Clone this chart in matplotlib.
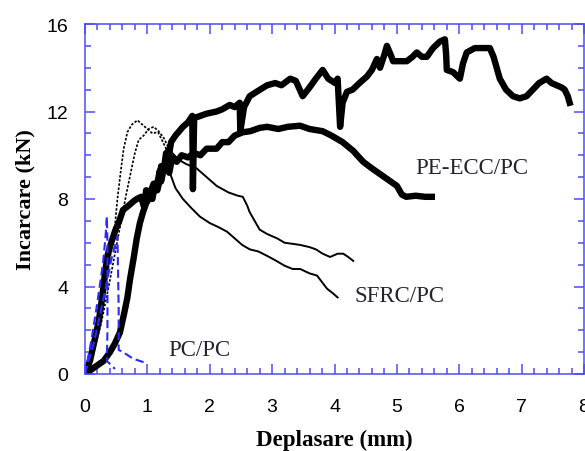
import matplotlib
matplotlib.use("Agg")
import matplotlib.pyplot as plt
from matplotlib.ticker import MultipleLocator
import numpy as np

# PE-ECC/PC specimens (thick black)
ecc1_x = [0, 0.08, 0.15, 0.22, 0.28, 0.32, 0.36, 0.42, 0.49, 0.55, 0.61, 0.7, 0.78, 0.83, 0.9, 0.95,
          0.98, 1.05, 1.1, 1.15, 1.2, 1.22, 1.28, 1.35, 1.4, 1.47, 1.55, 1.65, 1.75, 1.85, 1.95, 2.11,
          2.2, 2.3, 2.4, 2.53, 2.65, 2.8, 2.92, 3.1, 3.25, 3.45, 3.6, 3.81, 3.95, 4.13, 4.3, 4.46,
          4.6, 4.75, 4.9, 5.0, 5.08, 5.15, 5.3, 5.45, 5.56]
ecc1_y = [0, 0.6, 1.5, 2.4, 3.6, 4.6, 5.4, 6.0, 6.6, 7.0, 7.5, 7.7, 7.9, 8.0, 8.1, 7.6,
          8.4, 8.3, 8.7, 8.6, 9.3, 8.8, 9.6, 9.2, 9.9, 9.7, 10.0, 9.9, 10.1, 10.0, 10.3, 10.3,
          10.6, 10.6, 10.9, 11.05, 11.1, 11.25, 11.3, 11.2, 11.3, 11.35, 11.2, 11.1, 10.9, 10.6, 10.2, 9.7,
          9.4, 9.1, 8.8, 8.6, 8.2, 8.1, 8.15, 8.1, 8.1]

ecc2_x = [0, 0.1, 0.2, 0.3, 0.4, 0.48, 0.56, 0.63, 0.68, 0.72, 0.78, 0.83, 0.88, 0.93, 0.98, 1.04,
          1.08, 1.12, 1.16, 1.2, 1.22, 1.26, 1.3, 1.34, 1.38, 1.45, 1.57, 1.65, 1.72, 1.73, 1.75, 1.85,
          1.95, 2.11, 2.2, 2.32, 2.4, 2.48, 2.49, 2.55, 2.64, 2.75, 2.92, 3.05, 3.15, 3.29, 3.38, 3.49,
          3.6, 3.7, 3.81, 3.9, 4.01, 4.05, 4.09, 4.13, 4.2, 4.29, 4.4, 4.52, 4.6, 4.68, 4.73, 4.8,
          4.84, 4.9, 4.94, 5.05, 5.16, 5.25, 5.32, 5.4, 5.48, 5.58, 5.69, 5.77, 5.79, 5.8, 5.9, 6.01,
          6.06, 6.12, 6.25, 6.33, 6.49, 6.55, 6.65, 6.75, 6.86, 6.97, 7.08, 7.18, 7.28, 7.4, 7.48, 7.56,
          7.64, 7.69, 7.74, 7.77]
ecc2_y = [0, 0.2, 0.4, 0.6, 1.0, 1.4, 1.9, 2.8, 3.5, 4.3, 5.3, 6.2, 6.9, 7.4, 7.8, 8.1,
          8.0, 8.6, 8.4, 8.9, 9.5, 9.3, 10.1, 9.9, 10.6, 10.9, 11.3, 11.5, 11.8, 8.45, 11.7, 11.8,
          11.9, 12.0, 12.1, 12.3, 12.2, 12.4, 11.1, 12.2, 12.7, 12.9, 13.2, 13.3, 13.2, 13.5, 13.4, 12.7,
          13.1, 13.5, 13.9, 13.5, 13.3, 13.5, 11.3, 12.4, 12.9, 13.0, 13.3, 13.6, 13.9, 14.4, 14.0, 14.6,
          15.0, 14.6, 14.3, 14.3, 14.3, 14.5, 14.7, 14.5, 14.5, 14.9, 15.2, 15.3, 14.6, 13.9, 13.8, 13.5,
          14.2, 14.7, 14.9, 14.9, 14.9, 14.5, 13.5, 13.0, 12.7, 12.6, 12.7, 13.0, 13.3, 13.5, 13.3, 13.2,
          13.1, 13.0, 12.7, 12.4]

# SFRC/PC specimens (thin black)
sfrc1_x = [0, 0.1, 0.2, 0.3, 0.4, 0.48, 0.52, 0.57, 0.62, 0.68, 0.75, 0.84, 0.92, 1.0, 1.08, 1.17,
           1.25, 1.3, 1.36, 1.45, 1.57, 1.7, 1.84, 2.0, 2.15, 2.28, 2.4, 2.52, 2.64, 2.78, 2.92, 3.05,
           3.2, 3.33, 3.45, 3.6, 3.72, 3.8, 3.88, 3.97, 4.05]
sfrc1_y = [0, 0.8, 2.0, 3.6, 5.3, 6.8, 8.0, 9.2, 10.3, 11.06, 11.4, 11.6, 11.4, 11.2, 11.0, 11.06,
           10.6, 10.3, 9.2, 8.5, 8.0, 7.6, 7.2, 6.9, 6.7, 6.5, 6.2, 5.9, 5.7, 5.6, 5.4, 5.2,
           4.95, 4.8, 4.8, 4.6, 4.5, 4.2, 3.9, 3.7, 3.5]

sfrc2_x = [0, 0.12, 0.25, 0.38, 0.5, 0.58, 0.66, 0.74, 0.8, 0.86, 0.94, 1.02, 1.1, 1.18, 1.26, 1.33,
           1.4, 1.5, 1.62, 1.79, 1.95, 2.11, 2.3, 2.45, 2.53, 2.6, 2.64, 2.72, 2.8, 2.92, 3.08, 3.2,
           3.33, 3.45, 3.6, 3.7, 3.81, 3.93, 4.05, 4.14, 4.22, 4.3]
sfrc2_y = [0, 0.8, 2.2, 4.0, 5.8, 7.0, 8.2, 9.3, 10.1, 10.7, 10.9, 11.2, 11.3, 11.1, 10.8, 10.4,
           10.1, 9.8, 9.6, 9.4, 9.0, 8.6, 8.3, 8.15, 8.1, 7.7, 7.4, 7.0, 6.6, 6.4, 6.2, 6.0,
           5.95, 5.9, 5.8, 5.7, 5.5, 5.35, 5.5, 5.5, 5.35, 5.17]

# PC/PC specimens (blue dashed)
pc1_x = [0, 0.1, 0.2, 0.29, 0.33, 0.35, 0.36, 0.36, 0.35, 0.42, 0.48]
pc1_y = [0, 1.5, 3.3, 5.1, 6.3, 7.2, 6.0, 2.0, 0.6, 0.4, 0.23]
pc2_x = [0, 0.15, 0.3, 0.42, 0.52, 0.54, 0.54, 0.61, 0.77, 0.93, 1.0]
pc2_y = [0, 1.5, 3.5, 5.2, 6.3, 3.0, 1.1, 1.0, 0.7, 0.55, 0.5]

labels = ["PE-ECC/PC", "SFRC/PC", "PC/PC"]
label_pos = [(6.2, 9.46), (5.05, 3.57), (1.84, 1.14)]

blue = "#4b4bff"

fig = plt.figure(figsize=(5.85, 4.52), dpi=100)
ax = fig.add_axes([85 / 585, 1 - 375 / 452, (584 - 85) / 585, 350 / 452])

for xs, ys in [(sfrc1_x, sfrc1_y), (sfrc2_x, sfrc2_y)]:
    xs = np.array(xs)
    ys = np.array(ys)
    n = np.searchsorted(xs, 1.3)
    ax.plot(xs[:n + 1], ys[:n + 1], color="black", lw=1.2, ls=(0, (1.5, 1)))
    ax.plot(xs[n:], ys[n:], color="black", lw=1.4)

ax.plot(ecc1_x, ecc1_y, color="black", lw=4.6, solid_joinstyle="round")
ax.plot(ecc2_x, ecc2_y, color="black", lw=4.6, solid_joinstyle="round")

ax.plot(pc1_x, pc1_y, color="#2a2aff", lw=1.5, ls=(0, (4, 2)))
ax.plot(pc2_x, pc2_y, color="#2a2aff", lw=1.5, ls=(0, (4, 2)))

for txt, (tx, ty) in zip(labels, label_pos):
    ax.text(tx, ty, txt, fontsize=16.5, family="Liberation Serif", color="#222233",
            ha="center", va="center")

ax.set_xlim(0, 8)
ax.set_ylim(0, 16)
ax.xaxis.set_major_locator(MultipleLocator(1))
ax.xaxis.set_minor_locator(MultipleLocator(0.2))
ax.yaxis.set_major_locator(MultipleLocator(4))
ax.yaxis.set_minor_locator(MultipleLocator(1))
ax.tick_params(which="both", direction="in", top=True, right=True, color=blue, width=1.1)
ax.tick_params(which="major", length=7.5)
ax.tick_params(which="minor", length=4.5)
ax.tick_params(axis="x", which="major", pad=17, labelsize=14)
ax.tick_params(axis="y", which="major", pad=12, labelsize=14)
for lab in ax.get_xticklabels() + ax.get_yticklabels():
    lab.set_family("Liberation Sans")
for s in ax.spines.values():
    s.set_color(blue)
    s.set_linewidth(1.1)

ax.set_xlabel("Deplasare (mm)", fontsize=16.5, fontweight="bold", family="Liberation Serif", labelpad=10)
ax.set_ylabel("Incarcare (kN)", fontsize=16, fontweight="bold", family="Liberation Serif", labelpad=8)

fig.savefig("out.png", dpi=100)
